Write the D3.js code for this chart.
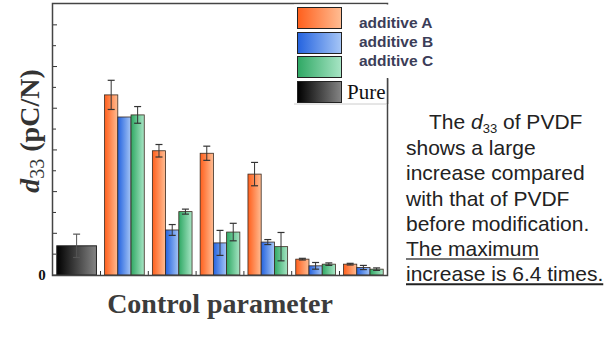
<!DOCTYPE html>
<html>
<head>
<meta charset="utf-8">
<script src="https://cdn.jsdelivr.net/npm/d3@7"></script>
<style>
  body { margin: 0; background: #fff; }
  svg { display: block; }
</style>
</head>
<body>
<svg width="612" height="341"></svg>
<script>
// data
var groups = ["Pure", "G1", "G2", "G3", "G4", "G5", "G6"]
var seriesNames = ["additive A", "additive B", "additive C"]
var pureValue = 7.0
var pureErr = 2.8
var additiveA = [43.2, 29.8, 29.2, 24.2, 3.8, 2.6]
var additiveB = [37.9, 10.8, 7.7, 7.9, 2.2, 1.8]
var additiveC = [38.4, 15.2, 10.3, 6.8, 2.6, 1.4]
var errA = [3.5, 1.5, 1.7, 2.8, 0.2, 0.2]
var errB = [0, 1.3, 3.0, 0.6, 0.8, 0.5]
var errC = [2.0, 0.6, 2.1, 3.4, 0.3, 0.3]
var yTicks = d3.range(0, 61, 5)
var textLines = ["shows a large", "increase compared", "with that of PVDF", "before modification."]
var underlined = ["The maximum", "increase is 6.4 times."]

var svg = d3.select("svg")
svg.append("rect").attr("width", 612).attr("height", 341).attr("fill", "#fff")

var grads = [
    ["gA", "#ff5f1c", "#ffbd93"],
    ["gB", "#2463df", "#a6c6f6"],
    ["gC", "#2fa864", "#a8e5c5"],
    ["gP", "#000000", "#858585"]
]
var defs = svg.append("defs")
grads.forEach(g => {
    var lg = defs.append("linearGradient").attr("id", g[0])
        .attr("x1", "0%").attr("x2", "100%").attr("y1", "0%").attr("y2", "0%")
    lg.append("stop").attr("offset", "0%").attr("stop-color", g[1])
    lg.append("stop").attr("offset", "100%").attr("stop-color", g[2])
})

var x = d3.scaleBand().domain(groups).range([52, 388]).paddingInner(0.17).paddingOuter(0.1)
var xs = d3.scaleBand().domain(seriesNames).range([0, x.bandwidth()])
var y = d3.scaleLinear().domain([0, 65]).range([275, 4])

var chart = svg.append("g")

// y ticks (inward)
chart.selectAll(".yt").data(yTicks).enter().append("line")
    .attr("x1", 52).attr("x2", (d, i) => i % 2 ? 56 : 57)
    .attr("y1", d => y(d)).attr("y2", d => y(d))
    .attr("stroke", "#333").attr("stroke-width", 1)
svg.append("text").attr("x", 42).attr("y", y(0) + 5)
    .attr("text-anchor", "middle")
    .style("font-family", "Liberation Serif").style("font-size", "15px").style("font-weight", "bold")
    .attr("fill", "#111").text("0")

// x ticks: group centres and between groups
var xTickPos = []
groups.forEach((g, i) => {
    xTickPos.push(x(g) + x.bandwidth() / 2)
    if (i > 0) xTickPos.push(x(g) - x.step() * x.paddingInner() / 2)
})
chart.selectAll(".xt").data(xTickPos).enter().append("line")
    .attr("x1", d => d).attr("x2", d => d)
    .attr("y1", 275).attr("y2", 271)
    .attr("stroke", "#333").attr("stroke-width", 1)

function errorBar(cx, v, e, col) {
    if (!e) return
    chart.append("line").attr("x1", cx).attr("x2", cx)
        .attr("y1", y(v + e)).attr("y2", y(v - e))
        .attr("stroke", col).attr("stroke-width", 1)
    ;[v + e, v - e].forEach(t => {
        chart.append("line").attr("x1", cx - 3.5).attr("x2", cx + 3.5)
            .attr("y1", y(t)).attr("y2", y(t))
            .attr("stroke", col).attr("stroke-width", 1.2)
    })
}

// pure bar
chart.append("rect")
    .attr("x", x("Pure")).attr("y", y(pureValue))
    .attr("width", x.bandwidth()).attr("height", y(0) - y(pureValue))
    .attr("fill", "url(#gP)").attr("stroke", "#222").attr("stroke-width", 1)
errorBar(x("Pure") + x.bandwidth() / 2, pureValue, pureErr, "#555")

var series = [
    { name: "additive A", values: additiveA, err: errA, fill: "url(#gA)" },
    { name: "additive B", values: additiveB, err: errB, fill: "url(#gB)" },
    { name: "additive C", values: additiveC, err: errC, fill: "url(#gC)" }
]
series.forEach(s => {
    s.values.forEach((v, i) => {
        var g = groups[i + 1]
        var bx = x(g) + xs(s.name)
        chart.append("rect")
            .attr("x", bx).attr("y", y(v))
            .attr("width", xs.bandwidth()).attr("height", y(0) - y(v))
            .attr("fill", s.fill).attr("stroke", "#3a2a20").attr("stroke-width", 0.8)
        errorBar(bx + xs.bandwidth() / 2, v, s.err[i], "#333")
    })
})

// frame
chart.append("rect").attr("x", 52.5).attr("y", 3.5).attr("width", 335).attr("height", 272)
    .attr("fill", "none").attr("stroke", "#444").attr("stroke-width", 1.5)

// legend
var legend = svg.append("g")
legend.append("rect").attr("x", 294).attr("y", 4.5).attr("width", 150).attr("height", 74).attr("fill", "#fff")
legend.append("rect").attr("x", 294).attr("y", 78).attr("width", 93).attr("height", 26).attr("fill", "#fff")
legend.append("line").attr("x1", 294).attr("x2", 387).attr("y1", 104).attr("y2", 104)
    .attr("stroke", "#ccc").attr("stroke-width", 1)
legend.append("line").attr("x1", 387.5).attr("x2", 387.5).attr("y1", 78).attr("y2", 104)
    .attr("stroke", "#444").attr("stroke-width", 1.5)
var legItems = [["additive A", "url(#gA)"], ["additive B", "url(#gB)"], ["additive C", "url(#gC)"], ["Pure", "url(#gP)"]]
legItems.forEach((d, i) => {
    var top = [7, 32, 56, 81][i]
    legend.append("rect").attr("x", 297.5).attr("y", top + 0.5).attr("width", 44).attr("height", 21)
        .attr("fill", d[1]).attr("stroke", "#222").attr("stroke-width", 1)
    if (i < 3) {
        legend.append("text").attr("x", 359).attr("y", [28, 47, 66][i])
            .style("font-family", "Liberation Sans").style("font-size", "15.5px").style("font-weight", "bold")
            .attr("fill", "#3b3d58").text(d[0])
    } else {
        legend.append("text").attr("x", 347).attr("y", 99)
            .style("font-family", "Liberation Serif").style("font-size", "21px")
            .attr("fill", "#111").text(d[0])
    }
})

// axis titles
var yl = svg.append("text")
    .attr("transform", "translate(39,131) rotate(-90)")
    .attr("text-anchor", "middle")
    .style("font-family", "Liberation Serif").style("font-size", "28px").style("font-weight", "bold")
    .attr("fill", "#333")
yl.append("tspan").style("font-style", "italic").text("d")
yl.append("tspan").attr("dy", 5).style("font-size", "20px").style("font-weight", "normal").text("33")
yl.append("tspan").attr("dy", -5).text(" (pC/N)")

svg.append("text").attr("x", 220).attr("y", 313).attr("text-anchor", "middle")
    .style("font-family", "Liberation Serif").style("font-size", "28px").style("font-weight", "bold")
    .attr("fill", "#3c3c3c").text("Control parameter")

// side text
var tf = "Liberation Sans"
var t0 = svg.append("text").attr("x", 429).attr("y", 129)
    .style("font-family", tf).style("font-size", "21px").attr("fill", "#222")
t0.append("tspan").text("The ")
t0.append("tspan").style("font-style", "italic").text("d")
t0.append("tspan").attr("dy", 4).style("font-size", "13px").text("33")
t0.append("tspan").attr("dy", -4).text(" of PVDF")

textLines.forEach((t, i) => {
    svg.append("text").attr("x", 406).attr("y", 155 + i * 25.3)
        .style("font-family", tf).style("font-size", "21px").attr("fill", "#222").text(t)
})
underlined.forEach((t, i) => {
    var ty = 256 + i * 25.3
    var tx = svg.append("text").attr("x", 406).attr("y", ty)
        .style("font-family", tf).style("font-size", "21px").attr("fill", "#222").text(t)
    var w = tx.node().getComputedTextLength()
    svg.append("line").attr("x1", 406).attr("x2", 406 + w)
        .attr("y1", ty + 3).attr("y2", ty + 3)
        .attr("stroke", i ? "#222" : "#777").attr("stroke-width", 2)
})
</script>
</body>
</html>
